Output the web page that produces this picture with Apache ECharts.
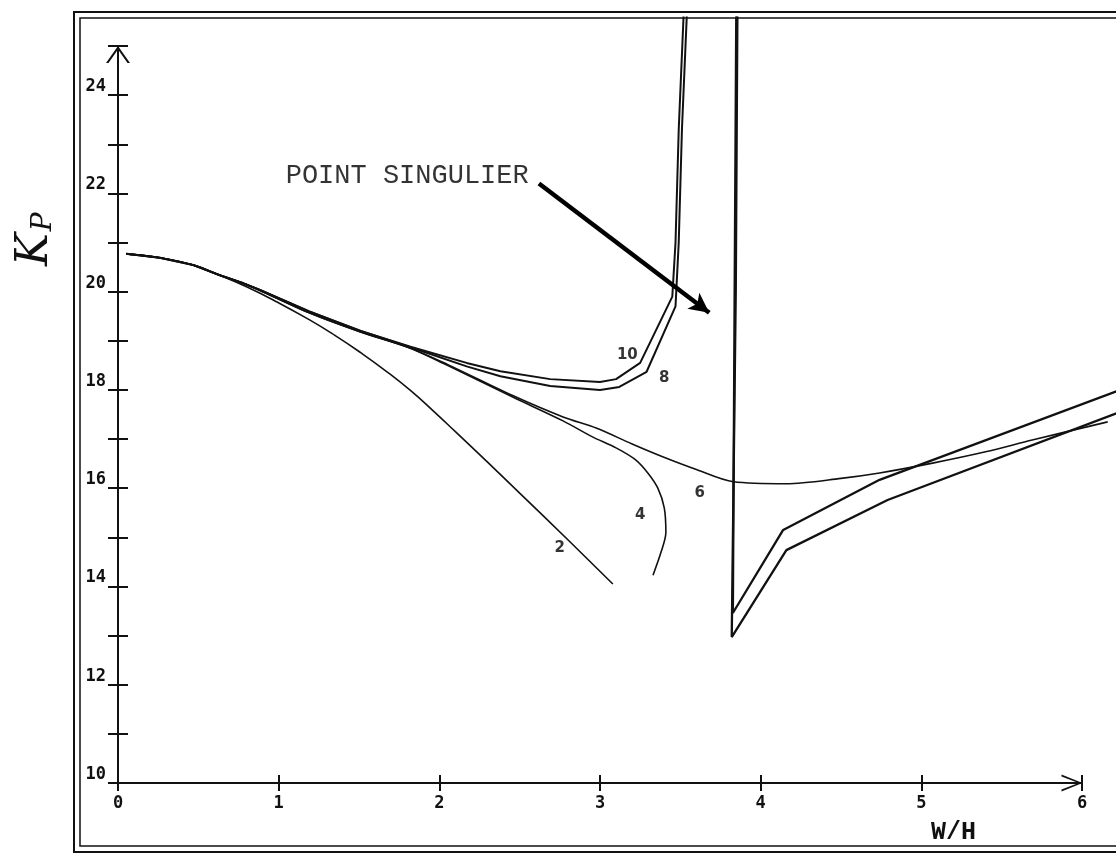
<!DOCTYPE html>
<html><head><meta charset="utf-8">
<script src="https://cdn.jsdelivr.net/npm/echarts@6/dist/echarts.min.js"></script>
<style>html,body{margin:0;padding:0;background:#fff}#c{width:1116px;height:857px}</style>
</head><body><div id="c"></div>
<script>
// ---- data (W/H, Kp) ----
const xTicks = [0, 1, 2, 3, 4, 5, 6];
const yLabelValues = [10, 12, 14, 16, 18, 20, 22, 24];
const curve2 = [[0.05,20.77],[0.26,20.69],[0.47,20.54],[0.63,20.34],[0.8,20.1],[0.99,19.79],[1.19,19.43],[1.35,19.11],[1.51,18.76],[1.67,18.38],[1.82,17.99],[1.96,17.58],[2.1,17.15],[2.3,16.53],[2.5,15.9],[2.8,14.95],[3.08,14.05]];
const curve4 = [[0.05,20.77],[0.26,20.69],[0.47,20.54],[0.63,20.34],[0.78,20.17],[0.88,20.03],[1.19,19.57],[1.51,19.18],[1.82,18.85],[2.05,18.5],[2.46,17.85],[2.77,17.37],[2.95,17.05],[3.1,16.82],[3.22,16.58],[3.3,16.3],[3.36,16.0],[3.4,15.6],[3.41,15.1],[3.38,14.7],[3.33,14.23]];
const curve6 = [[0.05,20.77],[0.26,20.69],[0.47,20.54],[0.63,20.34],[0.78,20.17],[0.88,20.03],[1.19,19.57],[1.51,19.18],[1.82,18.85],[2.05,18.52],[2.46,17.88],[2.77,17.45],[2.98,17.22],[3.2,16.9],[3.39,16.64],[3.6,16.38],[3.83,16.13],[4.16,16.09],[4.5,16.2],[4.74,16.31],[5.07,16.51],[5.4,16.74],[5.69,16.98],[6.16,17.35]];
const curve8 = [[0.05,20.77],[0.26,20.69],[0.47,20.54],[0.63,20.34],[0.78,20.17],[0.88,20.04],[1.19,19.6],[1.51,19.2],[1.82,18.87],[2.17,18.48],[2.38,18.28],[2.69,18.08],[3.0,18.0],[3.12,18.06],[3.29,18.37],[3.47,19.7],[3.49,21.0],[3.51,23.3],[3.54,25.6]];
const curve10 = [[0.05,20.77],[0.26,20.69],[0.47,20.54],[0.63,20.34],[0.78,20.17],[0.88,20.04],[1.19,19.6],[1.51,19.2],[1.82,18.88],[2.17,18.55],[2.38,18.38],[2.69,18.22],[3.0,18.16],[3.1,18.22],[3.25,18.55],[3.45,19.9],[3.47,21.0],[3.49,23.3],[3.52,25.6]];
const curve8R = [[3.855,25.6],[3.845,20],[3.82,12.97],[4.16,14.74],[4.79,15.76],[6.22,17.53]];
const curve10R = [[3.848,25.6],[3.838,20],[3.827,13.46],[4.14,15.15],[4.74,16.17],[6.22,17.98]];
const curveLabels = [['2',2.75,14.78],['4',3.25,15.45],['6',3.62,15.9],['10',3.17,18.71],['8',3.40,18.24]];
const noteText = 'POINT SINGULIER';
const notePos = [1.8, 22.35];
const arrowFrom = [2.62, 22.2];
const arrowTo = [3.68, 19.57];

const INK = '#111';
const X_MAX_DATA = 6.25; // data frame extends past the axis arrow
const PLOT_W = 964;
const chart = echarts.init(document.getElementById('c'), null, {renderer: 'canvas'});

function lineSeries(data, w, smooth) {
  return {
    type: 'line', data: data, xAxisIndex: 2, yAxisIndex: 2,
    symbol: 'none', smooth: smooth, clip: false, silent: true,
    lineStyle: {color: INK, width: w}
  };
}

const xArrow = 'path://M0,21 L8.5,0 L17,21 L15,21 L8.5,4 L2,21 Z';
const yArrow = 'path://M0,17 L12,0 L24,17 L21.5,17 L12,3.5 L2.5,17 Z';
const tickFont = {color: INK, fontFamily: 'DejaVu Sans Mono', fontWeight: 'bold', fontSize: 17};

const option = {
  animation: false,
  backgroundColor: '#fff',
  grid: [
    {left: 118, top: 46, width: PLOT_W, height: 737, outerBoundsMode: 'none'},
    {left: 118, top: 46, width: PLOT_W * X_MAX_DATA / 6, height: 737, outerBoundsMode: 'none'}
  ],
  xAxis: [{
    gridIndex: 0, type: 'value', min: 0, max: 6, interval: 1, position: 'bottom',
    axisLine: {show: true, onZero: false, lineStyle: {color: INK, width: 2},
      symbol: ['none', xArrow], symbolSize: [17, 21], symbolOffset: [0, -10]},
    axisTick: {show: true, inside: false, length: 8, lineStyle: {color: INK, width: 2}},
    axisLabel: Object.assign({show: true, margin: 12,
      formatter: v => xTicks.includes(v) ? String(v) : ''}, tickFont),
    splitLine: {show: false}
  }, {
    gridIndex: 0, type: 'value', min: 0, max: 6, interval: 1, position: 'bottom',
    axisLine: {show: false, onZero: false},
    axisTick: {show: true, inside: true, length: 8, lineStyle: {color: INK, width: 2}},
    axisLabel: {show: false}, splitLine: {show: false}
  }, {
    gridIndex: 1, type: 'value', min: 0, max: X_MAX_DATA, show: false,
    splitLine: {show: false}
  }],
  yAxis: [{
    gridIndex: 0, type: 'value', min: 10, max: 25, interval: 1, position: 'left',
    axisLine: {show: true, onZero: false, lineStyle: {color: INK, width: 2},
      symbol: ['none', yArrow], symbolSize: [24, 17], symbolOffset: [0, -8.5]},
    axisTick: {show: true, inside: false, length: 10, lineStyle: {color: INK, width: 2}},
    axisLabel: Object.assign({show: true, margin: 12, verticalAlign: 'bottom',
      formatter: v => yLabelValues.includes(v) ? String(v) : ''}, tickFont),
    splitLine: {show: false}
  }, {
    gridIndex: 0, type: 'value', min: 10, max: 25, interval: 1, position: 'left',
    axisLine: {show: false, onZero: false},
    axisTick: {show: true, inside: true, length: 10, lineStyle: {color: INK, width: 2}},
    axisLabel: {show: false}, splitLine: {show: false}
  }, {
    gridIndex: 1, type: 'value', min: 10, max: 25, show: false,
    splitLine: {show: false}
  }],
  graphic: [
    {type: 'rect', shape: {x: 74, y: 12, width: 1100, height: 840}, style: {fill: 'none', stroke: INK, lineWidth: 2}, silent: true},
    {type: 'rect', shape: {x: 80, y: 18, width: 1100, height: 828}, style: {fill: 'none', stroke: INK, lineWidth: 1.5}, silent: true},
    {type: 'text', x: 931, y: 820, silent: true,
      style: {text: 'W/H', fill: INK, font: 'bold 25px "Liberation Mono"'}},
    {type: 'text', x: 14, y: 266, rotation: Math.PI / 2, silent: true,
      style: {text: '{k|K}{p|P}', fill: INK,
        rich: {k: {fontSize: 44, fontFamily: 'DejaVu Serif', fontStyle: 'italic', fill: INK},
               p: {fontSize: 28, fontFamily: 'DejaVu Serif', fontStyle: 'italic', fill: INK, padding: [16, 0, 0, 2]}}}}
  ],
  series: [
    lineSeries(curve2, 1.6, 0.5),
    lineSeries(curve4, 1.6, 0.3),
    lineSeries(curve6, 1.6, 0.3),
    lineSeries(curve8, 2, false),
    lineSeries(curve10, 2, false),
    lineSeries(curve8R, 2.3, false),
    lineSeries(curve10R, 2.3, false),
    {
      type: 'scatter', xAxisIndex: 2, yAxisIndex: 2, clip: false, silent: true,
      symbolSize: 1, itemStyle: {color: 'transparent'},
      data: curveLabels.map(d => ({value: [d[1], d[2]], name: d[0]})),
      label: {show: true, position: 'inside', formatter: p => p.name, color: '#000', fontFamily: 'DejaVu Sans', fontWeight: 'bold', fontSize: 15}
    },
    {
      type: 'scatter', xAxisIndex: 2, yAxisIndex: 2, clip: false, silent: true,
      symbolSize: 1, itemStyle: {color: 'transparent'},
      data: [{value: notePos, name: noteText}],
      label: {show: true, position: 'inside', formatter: p => p.name, color: '#000', fontFamily: 'Liberation Mono', fontSize: 27},
      markLine: {
        silent: true, animation: false,
        symbol: ['none', 'arrow'], symbolSize: [15, 20],
        label: {show: false},
        lineStyle: {color: '#000', width: 4.5, type: 'solid'},
        emphasis: {disabled: true},
        data: [[{coord: arrowFrom}, {coord: arrowTo}]]
      }
    }
  ]
};
chart.setOption(option);
</script></body></html>
